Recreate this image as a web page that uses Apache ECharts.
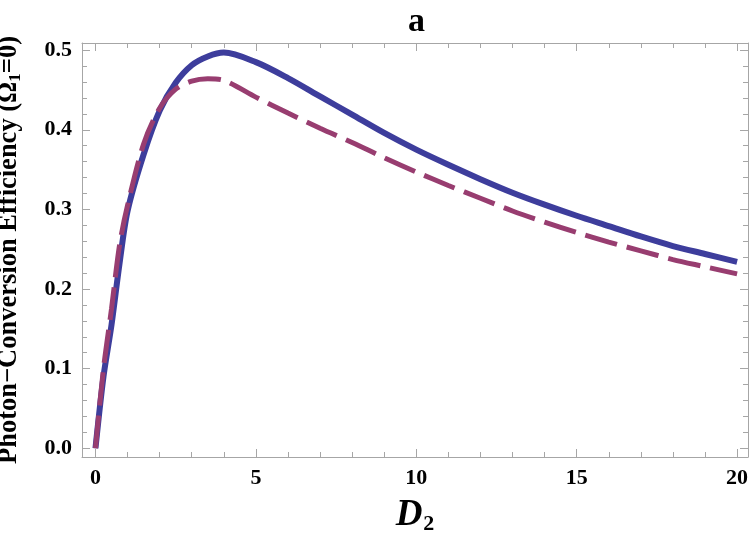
<!DOCTYPE html>
<html>
<head>
<meta charset="utf-8">
<script src="https://cdn.jsdelivr.net/npm/echarts@6/dist/echarts.min.js"></script>
<style>
  html, body { margin: 0; padding: 0; background: #fff; }
  #chart { width: 750px; height: 540px; }
</style>
</head>
<body>
<div id="chart"></div>
<script>
// values
const d2Values = [0, 0.25, 0.5, 0.75, 1, 1.5, 2, 2.5, 3, 3.5, 4, 5, 6, 7, 8, 9, 10, 11, 12, 13, 14, 15, 16, 17, 18, 19, 20];
const solidEff = [0, 0.090, 0.155, 0.232, 0.298, 0.369, 0.424, 0.459, 0.481, 0.492, 0.497, 0.485, 0.465, 0.442, 0.419, 0.396, 0.375, 0.356, 0.338, 0.321, 0.306, 0.292, 0.279, 0.266, 0.254, 0.244, 0.234];
const dashedEff = [0, 0.100, 0.175, 0.255, 0.305, 0.382, 0.427, 0.451, 0.461, 0.464, 0.462, 0.441, 0.421, 0.402, 0.384, 0.365, 0.347, 0.330, 0.314, 0.298, 0.284, 0.271, 0.259, 0.248, 0.237, 0.228, 0.219];

const xMajorTicks = [0, 5, 10, 15, 20];
const xMinorTicks = [1, 2, 3, 4, 6, 7, 8, 9, 11, 12, 13, 14, 16, 17, 18, 19];
const yMajorTicks = [0, 0.1, 0.2, 0.3, 0.4, 0.5];
const yMinorTicks = [0.02, 0.04, 0.06, 0.08, 0.12, 0.14, 0.16, 0.18, 0.22, 0.24, 0.26, 0.28,
                     0.32, 0.34, 0.36, 0.38, 0.42, 0.44, 0.46, 0.48];

const frameColor = '#a6a6a6';
const serif = '"Liberation Serif", "DejaVu Serif", serif';
const X_MIN = -0.42, X_MAX = 20.34;
const Y_MIN = -0.011, Y_MAX = 0.509;

function tickAxis(kind, pos, ticks, len, withLine, withLabels) {
    const ax = {
        type: 'value',
        position: pos,
        min: kind === 'x' ? X_MIN : Y_MIN,
        max: kind === 'x' ? X_MAX : Y_MAX,
        splitLine: { show: false },
        axisLine: { show: withLine, onZero: false, lineStyle: { color: frameColor, width: 1 } },
        axisTick: { show: true, inside: true, length: len, customValues: ticks, lineStyle: { color: frameColor, width: 1 } },
        axisLabel: { show: false }
    };
    if (withLabels) {
        ax.axisLabel = {
            show: true,
            customValues: ticks,
            margin: 10,
            color: '#000',
            fontFamily: serif,
            fontWeight: 'bold',
            fontSize: 22,
            formatter: v => kind === 'x' ? String(Math.round(v)) : v.toFixed(1)
        };
    }
    return ax;
}

const chart = echarts.init(document.getElementById('chart'));

const xMain = tickAxis('x', 'bottom', xMajorTicks, 8, true, true);
xMain.name = '{d|D}{s|2}';
xMain.nameLocation = 'middle';
xMain.nameGap = 38;
xMain.nameTextStyle = {
    rich: {
        d: { fontFamily: serif, fontStyle: 'italic', fontWeight: 'bold', fontSize: 37, color: '#000', lineHeight: 40 },
        s: { fontFamily: serif, fontWeight: 'bold', fontSize: 22, color: '#000', lineHeight: 40, verticalAlign: 'bottom', padding: [14, 0, 0, 1] }
    }
};

const yMain = tickAxis('y', 'left', yMajorTicks, 8, true, true);
yMain.name = '{a|Photon\u2212Conversion Efficiency (\u03A9}{s|1}{a|=0)}';
yMain.nameLocation = 'middle';
yMain.nameGap = 58;
yMain.nameTextStyle = {
    rich: {
        a: { fontFamily: serif, fontWeight: 'bold', fontSize: 26.5, color: '#000', lineHeight: 30 },
        s: { fontFamily: serif, fontWeight: 'bold', fontSize: 17, color: '#000', lineHeight: 30, verticalAlign: 'bottom', padding: [10, 0, 0, 0] }
    }
};

chart.setOption({
    animation: false,
    backgroundColor: '#fff',
    title: {
        text: 'a',
        left: 403,
        top: 0,
        textStyle: { fontFamily: serif, fontWeight: 'bold', fontSize: 34, color: '#000' }
    },
    grid: { left: 82, right: 2, top: 43, bottom: 83, containLabel: false, outerBoundsMode: 'none' },
    xAxis: [
        xMain,
        tickAxis('x', 'bottom', xMinorTicks, 5, false, false),
        tickAxis('x', 'top', xMajorTicks, 8, true, false),
        tickAxis('x', 'top', xMinorTicks, 5, false, false)
    ],
    yAxis: [
        yMain,
        tickAxis('y', 'left', yMinorTicks, 5, false, false),
        tickAxis('y', 'right', yMajorTicks, 8, true, false),
        tickAxis('y', 'right', yMinorTicks, 5, false, false)
    ],
    series: [
        {
            type: 'line',
            data: d2Values.map((x, i) => [x, solidEff[i]]),
            smooth: 0.3,
            showSymbol: false,
            clip: false,
            lineStyle: { color: '#3d3d9c', width: 6 }
        },
        {
            type: 'line',
            data: d2Values.map((x, i) => [x, dashedEff[i]]),
            smooth: 0.3,
            showSymbol: false,
            clip: false,
            lineStyle: { color: '#983d70', width: 5, type: [33, 10], cap: 'butt' }
        }
    ]
});
</script>
</body>
</html>
